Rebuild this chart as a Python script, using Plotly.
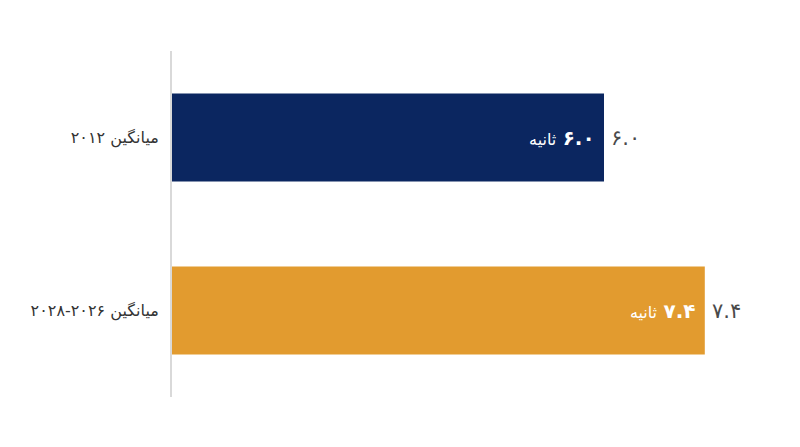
import plotly.graph_objects as go

categories = ["میانگین ۲۰۱۲", "میانگین ۲۰۲۶-۲۰۲۸"]
values = [6.0, 7.4]
value_labels = ["۶.۰", "۷.۴"]
unit = "ثانیه"
colors = ["#0b2660", "#e29b2f"]

fig = go.Figure()

# LRM keeps the word on the left and the number on the right
fig.add_trace(go.Bar(
    y=categories, x=values, orientation="h",
    marker=dict(color=colors, line=dict(width=0)),
    text=["<span style='font-size:16px'>%s</span>\u200e <b>%s</b>\u00a0" % (unit, v) for v in value_labels],
    textposition="inside", insidetextanchor="end",
    textfont=dict(color="white", size=20, family="DejaVu Sans"),
    constraintext="none",
    hoverinfo="skip",
))

# outside value labels
for c, v, lab in zip(categories, values, value_labels):
    fig.add_annotation(x=v, y=c, xref="x", yref="y", text=lab, showarrow=False,
                       xanchor="left", xshift=5,
                       font=dict(color="#4a4a4a", size=21, family="DejaVu Sans"))

fig.update_layout(
    width=800, height=447,
    margin=dict(l=164, r=28, t=43, b=58),
    plot_bgcolor="white", paper_bgcolor="white",
    bargap=0.49,
    showlegend=False,
    font=dict(family="DejaVu Sans", color="#333333", size=16),
)
fig.update_xaxes(range=[0, 608 / 72], visible=False, showgrid=False)
fig.update_yaxes(autorange="reversed", showgrid=False, showline=True,
                 linecolor="#d9d9d9", linewidth=2, ticks="outside", ticklen=8,
                 tickcolor="rgba(0,0,0,0)", tickfont=dict(size=16, color="#333333"))

fig.write_html("out.html")
